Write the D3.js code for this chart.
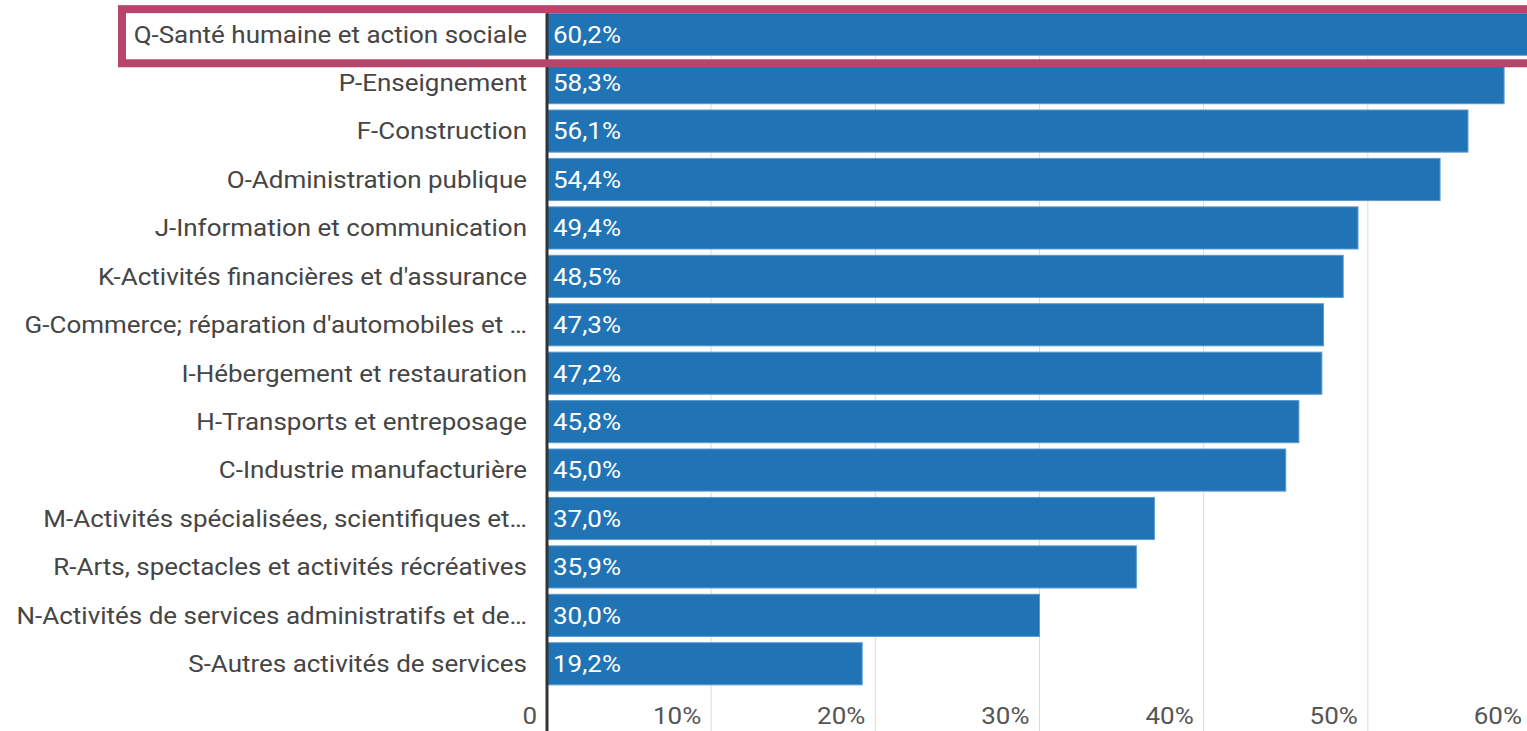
<!DOCTYPE html>
<html>
<head>
<meta charset="utf-8">
<script src="https://cdn.jsdelivr.net/npm/d3@7"></script>
<style>
  body { margin: 0; background: #fff; }
  svg { display: block; font-family: Roboto, "Noto Sans", sans-serif; }
</style>
</head>
<body>
<div id="chart"></div>
<script>
// categories (as shown, truncated ones kept with ellipsis)
var categories = [
  "Q-Santé humaine et action sociale",
  "P-Enseignement",
  "F-Construction",
  "O-Administration publique",
  "J-Information et communication",
  "K-Activités financières et d'assurance",
  "G-Commerce; réparation d'automobiles et …",
  "I-Hébergement et restauration",
  "H-Transports et entreposage",
  "C-Industrie manufacturière",
  "M-Activités spécialisées, scientifiques et…",
  "R-Arts, spectacles et activités récréatives",
  "N-Activités de services administratifs et de…",
  "S-Autres activités de services"
];
var values = [60.2, 58.3, 56.1, 54.4, 49.4, 48.5, 47.3, 47.2, 45.8, 45.0, 37.0, 35.9, 30.0, 19.2];
var tickValues = [0, 10, 20, 30, 40, 50, 60];
var highlighted = "Q-Santé humaine et action sociale";

var svgWidth = 1527, svgHeight = 731;
var margin = { top: 10, left: 547 };
var stretch = 1.13; // text in the reference is a bit wide

var svg = d3.select("#chart").append("svg")
  .attr("width", svgWidth)
  .attr("height", svgHeight);

var x = d3.scaleLinear().domain([0, 60]).range([margin.left, 1532]);
var y = d3.scaleBand().domain(categories).range([10, 688]).paddingInner(0.13).paddingOuter(0.065);

var fmt = function(v) { return v.toFixed(1).replace(".", ",") + "%"; };

// gridlines
svg.append("g").selectAll("line")
  .data(tickValues.filter(d => d > 0))
  .enter().append("line")
  .attr("x1", d => x(d)).attr("x2", d => x(d))
  .attr("y1", 10).attr("y2", svgHeight)
  .attr("stroke", "#dcdcdc").attr("stroke-width", 1);

// x tick labels
svg.append("g").selectAll("text")
  .data(tickValues)
  .enter().append("text")
  .attr("transform", d => `translate(${x(d) - 10}, 724) scale(${stretch}, 1)`)
  .attr("text-anchor", "end")
  .attr("fill", "#555")
  .style("font-size", "23px")
  .text(d => d === 0 ? "0" : d + "%");

// bars
var rows = svg.append("g").selectAll("g")
  .data(categories)
  .enter().append("g");

rows.append("rect")
  .attr("x", x(0))
  .attr("y", d => y(d))
  .attr("width", (d, i) => x(values[i]) - x(0))
  .attr("height", y.bandwidth())
  .attr("fill", "#2074b5")
  .attr("stroke", "#5b9ad0")
  .attr("stroke-width", 1);

rows.append("text")
  .attr("transform", d => `translate(${x(0) + 6}, ${y(d) + y.bandwidth() / 2}) scale(${stretch}, 1)`)
  .attr("dy", "0.36em")
  .attr("fill", "#fff")
  .style("font-size", "23px")
  .text((d, i) => fmt(values[i]));

// category labels
rows.append("text")
  .attr("transform", d => `translate(527, ${y(d) + y.bandwidth() / 2}) scale(${stretch}, 1)`)
  .attr("dy", "0.36em")
  .attr("text-anchor", "end")
  .attr("fill", "#454545")
  .style("font-size", "23px")
  .text(d => d);

// axis line
svg.append("line")
  .attr("x1", x(0)).attr("x2", x(0))
  .attr("y1", y(categories[0])).attr("y2", svgHeight)
  .attr("stroke", "#333").attr("stroke-width", 3);

// highlight box
var hy = y(highlighted);
svg.append("rect")
  .attr("x", 122)
  .attr("y", hy - 4)
  .attr("width", 1440)
  .attr("height", y.bandwidth() + 8 + 4)
  .attr("fill", "none")
  .attr("stroke", "#b9446a")
  .attr("stroke-width", 8);
</script>
</body>
</html>
